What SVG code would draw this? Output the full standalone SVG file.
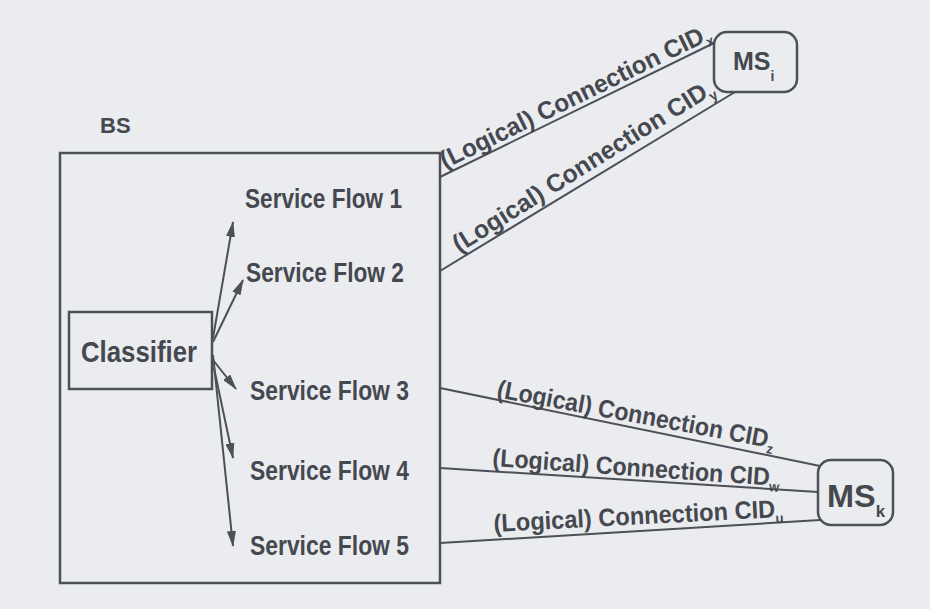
<svg xmlns="http://www.w3.org/2000/svg" width="930" height="609" viewBox="0 0 930 609">
<style>
  .t { font-family: "Liberation Sans", Arial, sans-serif; font-weight: bold; fill: #46484f; }
  .sf { font-size: 27px; }
  .cl { font-size: 25px; }
  .sub { font-size: 14px; }
  .box { fill: none; stroke: #4d4f59; stroke-width: 2.5; }
  .ln { fill: none; stroke: #4d4f59; stroke-width: 2; }
  .arr { fill: none; stroke: #4d4f59; stroke-width: 2; marker-end: url(#ah); }
</style>
<defs>
  <marker id="ah" viewBox="0 0 16 9" refX="15" refY="4.5" markerWidth="16" markerHeight="9" markerUnits="userSpaceOnUse" orient="auto">
    <path d="M0,0 L16,4.5 L0,9 z" fill="#4d4f59"/>
  </marker>
</defs>
<rect x="0" y="0" width="930" height="609" fill="#eaecef"/>

<g id="bs">
  <rect class="box" x="60" y="153" width="380" height="430"/>
  <text class="t" x="100" y="133" font-size="22">BS</text>
</g>

<g id="classifier">
  <rect class="box" x="69" y="312" width="143" height="77"/>
  <text class="t" x="81" y="362" font-size="30" textLength="116" lengthAdjust="spacingAndGlyphs">Classifier</text>
</g>

<g id="sf1"><text class="t sf" x="245" y="208" textLength="157" lengthAdjust="spacingAndGlyphs">Service Flow 1</text></g>
<g id="sf2"><text class="t sf" x="246" y="282" textLength="158" lengthAdjust="spacingAndGlyphs">Service Flow 2</text></g>
<g id="sf3"><text class="t sf" x="250" y="400" textLength="159" lengthAdjust="spacingAndGlyphs">Service Flow 3</text></g>
<g id="sf4"><text class="t sf" x="250" y="480" textLength="159" lengthAdjust="spacingAndGlyphs">Service Flow 4</text></g>
<g id="sf5"><text class="t sf" x="250" y="555" textLength="159" lengthAdjust="spacingAndGlyphs">Service Flow 5</text></g>

<g id="msi">
  <rect class="box" x="714" y="32" width="83" height="60" rx="13"/>
  <text class="t" x="733" y="70" font-size="25">MS<tspan class="sub" dy="11">i</tspan></text>
</g>

<g id="msk">
  <rect class="box" x="818" y="460" width="75" height="65" rx="13"/>
  <text class="t" x="827" y="507" font-size="31" textLength="58" lengthAdjust="spacingAndGlyphs">MS<tspan font-size="16" dy="10">k</tspan></text>
</g>

<g id="connectors">
  <line class="arr" x1="213" y1="338" x2="233" y2="222"/>
  <line class="arr" x1="213" y1="342" x2="243" y2="280"/>
  <line class="arr" x1="213" y1="360" x2="236" y2="389"/>
  <line class="arr" x1="214" y1="368" x2="233" y2="458"/>
  <line class="arr" x1="213" y1="355" x2="233" y2="546"/>

  <line class="ln" x1="440" y1="177" x2="714" y2="43"/>
  <line class="ln" x1="440" y1="271" x2="735" y2="92"/>
  <line class="ln" x1="440" y1="388" x2="820" y2="466"/>
  <line class="ln" x1="440" y1="468" x2="818" y2="492"/>
  <line class="ln" x1="440" y1="543" x2="820" y2="520"/>

  <text class="t cl" x="445" y="169" transform="rotate(-26 445 169)" textLength="298" lengthAdjust="spacingAndGlyphs">(Logical) Connection CID<tspan class="sub" dy="6">x</tspan></text>
  <text class="t cl" x="459" y="253" transform="rotate(-32 459 253)" textLength="303" lengthAdjust="spacingAndGlyphs">(Logical) Connection CID<tspan class="sub" dy="6">y</tspan></text>
  <text class="t cl" x="496" y="397" transform="rotate(10.5 496 397)" textLength="282" lengthAdjust="spacingAndGlyphs">(Logical) Connection CID<tspan class="sub" dy="6">z</tspan></text>
  <text class="t cl" x="492" y="466" transform="rotate(4 492 466)" textLength="288" lengthAdjust="spacingAndGlyphs">(Logical) Connection CID<tspan class="sub" dy="6">w</tspan></text>
  <text class="t cl" x="494" y="532" transform="rotate(-3 494 532)" textLength="290" lengthAdjust="spacingAndGlyphs">(Logical) Connection CID<tspan class="sub" dy="6">u</tspan></text>
</g>
</svg>
